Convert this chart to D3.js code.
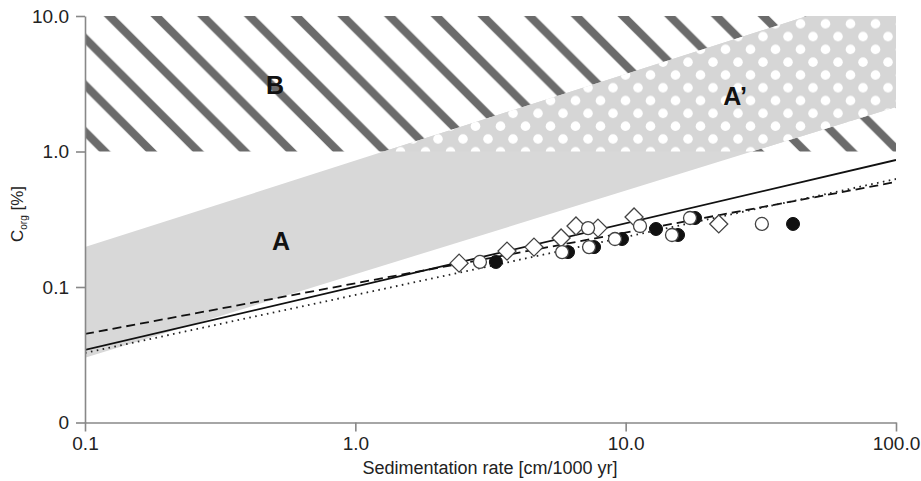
<!DOCTYPE html>
<html>
<head>
<meta charset="utf-8">
<script src="https://cdn.jsdelivr.net/npm/d3@7"></script>
<style>
  html, body { margin: 0; padding: 0; background: #fff; }
  svg { display: block; font-family: "Liberation Sans", Arial, sans-serif; }
</style>
</head>
<body>
<svg id="chart" width="921" height="481"></svg>
<script>
// ---- data ----
const xTickValues = [0.1, 1, 10, 100];
const xTickLabels = ["0.1", "1.0", "10.0", "100.0"];
const yTickValues = [0.01, 0.1, 1, 10];
const yTickLabels = ["0", "0.1", "1.0", "10.0"];

// field A band (upper and lower power-law boundaries)
const bandUpper = [[0.1, 0.197], [100, 16.2]];
const bandLower = [[0.1, 0.030], [100, 2.13]];
// field B: x-range and C range
const fieldB = { x0: 0.1, x1: 100, y0: 1, y1: 10 };

// regression lines
const solidLine = [[0.1, 0.0343], [100, 0.866]];
const dashedLine = [[0.1, 0.045], [100, 0.596]];
const dottedLine = [[0.1, 0.0326], [100, 0.627]];

// data points
const diamondX = [2.42, 3.64, 4.58, 5.77, 6.55, 7.90, 10.74, 22.1];
const diamondY = [0.150, 0.184, 0.197, 0.230, 0.282, 0.272, 0.329, 0.292];
const openX = [2.89, 5.82, 7.26, 7.32, 9.13, 11.3, 14.84, 17.3, 31.9];
const openY = [0.153, 0.181, 0.272, 0.197, 0.226, 0.282, 0.242, 0.323, 0.292];
const filledX = [3.31, 6.12, 7.64, 9.69, 12.95, 15.62, 18.05, 41.6];
const filledY = [0.153, 0.181, 0.197, 0.226, 0.268, 0.242, 0.323, 0.292];

const regionLabels = [
  { text: "B", x: 0.505, y: 2.99 },
  { text: "A\u2019", x: 25.4, y: 2.48 },
  { text: "A", x: 0.531, y: 0.211 }
];

// ---- layout ----
const svg = d3.select("#chart");
const x = d3.scaleLog().domain([0.1, 100]).range([85, 896]);
const y = d3.scaleLog().domain([0.01, 10]).range([422.5, 16]);

const defs = svg.append("defs");
defs.append("clipPath").attr("id", "plotClip")
  .append("rect").attr("x", 85).attr("y", 16).attr("width", 811).attr("height", 406.5);
defs.append("clipPath").attr("id", "upperClip")
  .append("rect")
  .attr("x", x(0.1)).attr("y", y(10))
  .attr("width", x(100) - x(0.1)).attr("height", y(1) - y(10));

// hatch pattern
const hw = 46.7;
const hatch = defs.append("pattern").attr("id", "hatch")
  .attr("patternUnits", "userSpaceOnUse").attr("width", hw).attr("height", hw);
hatch.append("path")
  .attr("d", `M-10,-10 L${hw + 10},${hw + 10} M${hw - 10},-10 L${hw + 10},10 M-10,${hw - 10} L10,${hw + 10}`)
  .attr("stroke", "#6b6b6b").attr("stroke-width", 8);

// dot pattern
const dw = 25, dh = 25.6;
const dots = defs.append("pattern").attr("id", "dots")
  .attr("patternUnits", "userSpaceOnUse").attr("width", dw).attr("height", dh);
dots.append("rect").attr("width", dw).attr("height", dh).attr("fill", "#d6d6d6");
[[13, 11], [0.5, 23.8], [25.5, 23.8], [0.5, -1.8], [25.5, -1.8]].forEach(p => {
  dots.append("circle").attr("cx", p[0]).attr("cy", p[1]).attr("r", 4.8).attr("fill", "#fff");
});

const plot = svg.append("g").attr("clip-path", "url(#plotClip)");

// field B
plot.append("rect")
  .attr("x", x(fieldB.x0)).attr("y", y(fieldB.y1))
  .attr("width", x(fieldB.x1) - x(fieldB.x0)).attr("height", y(fieldB.y0) - y(fieldB.y1))
  .attr("fill", "url(#hatch)");

// band polygon
const bandPoly = bandUpper.concat(bandLower.slice().reverse());
const polyPath = "M" + bandPoly.map(d => `${x(d[0])},${y(d[1])}`).join("L") + "Z";
plot.append("path").attr("d", polyPath).attr("fill", "#d8d8d8");
plot.append("g").attr("clip-path", "url(#upperClip)")
  .append("path").attr("d", polyPath).attr("fill", "url(#dots)");

// lines
const line = d3.line().x(d => x(d[0])).y(d => y(d[1]));
plot.append("path").attr("d", line(solidLine)).attr("fill", "none")
  .attr("stroke", "#111").attr("stroke-width", 1.8);
plot.append("path").attr("d", line(dashedLine)).attr("fill", "none")
  .attr("stroke", "#111").attr("stroke-width", 1.8).attr("stroke-dasharray", "9,5");
plot.append("path").attr("d", line(dottedLine)).attr("fill", "none")
  .attr("stroke", "#222").attr("stroke-width", 1.8).attr("stroke-dasharray", "1.6,4.4");

// markers
const filled = d3.range(filledX.length).map(i => [filledX[i], filledY[i]]);
const open = d3.range(openX.length).map(i => [openX[i], openY[i]]);
const diamonds = d3.range(diamondX.length).map(i => [diamondX[i], diamondY[i]]);

plot.append("g").selectAll("circle").data(filled).join("circle")
  .attr("cx", d => x(d[0])).attr("cy", d => y(d[1])).attr("r", 6.5)
  .attr("fill", "#111").attr("stroke", "#111").attr("stroke-width", 1);
plot.append("g").selectAll("path").data(diamonds).join("path")
  .attr("d", d => { const cx = x(d[0]), cy = y(d[1]), s = 9;
    return `M${cx},${cy - s}L${cx + s},${cy}L${cx},${cy + s}L${cx - s},${cy}Z`; })
  .attr("fill", "#fff").attr("stroke", "#444").attr("stroke-width", 1.3);
plot.append("g").selectAll("circle").data(open).join("circle")
  .attr("cx", d => x(d[0])).attr("cy", d => y(d[1])).attr("r", 6.5)
  .attr("fill", "#fff").attr("stroke", "#444").attr("stroke-width", 1.3);

// region labels
svg.append("g").selectAll("text").data(regionLabels).join("text")
  .attr("x", d => x(d.x)).attr("y", d => y(d.y))
  .attr("text-anchor", "middle").attr("dominant-baseline", "middle")
  .attr("font-size", 25).attr("font-weight", "bold").attr("fill", "#111")
  .text(d => d.text);

// axes
const xAxis = d3.axisBottom(x).tickValues(xTickValues)
  .tickFormat((d, i) => xTickLabels[i]).tickSize(9).tickPadding(5).tickSizeOuter(0);
const yAxis = d3.axisLeft(y).tickValues(yTickValues)
  .tickFormat((d, i) => yTickLabels[i]).tickSize(9).tickPadding(7).tickSizeOuter(0);

const gx = svg.append("g").attr("transform", `translate(0,${y(0.01)})`).call(xAxis);
const gy = svg.append("g").attr("transform", `translate(${x(0.1)},0)`).call(yAxis);
[gx, gy].forEach(g => {
  g.select(".domain").attr("stroke", "#888").attr("stroke-width", 1.6);
  g.selectAll(".tick line").attr("stroke", "#888").attr("stroke-width", 1.6);
  g.selectAll(".tick text").attr("fill", "#222").attr("font-size", 19)
    .attr("font-family", "'Liberation Sans', Arial, sans-serif");
});

// axis titles
svg.append("text").attr("x", 490).attr("y", 474).attr("text-anchor", "middle")
  .attr("font-size", 18).attr("fill", "#222").text("Sedimentation rate [cm/1000 yr]");

const yt = svg.append("text")
  .attr("transform", "translate(23,214) rotate(-90)")
  .attr("text-anchor", "middle").attr("font-size", 17).attr("fill", "#222");
yt.append("tspan").text("C");
yt.append("tspan").attr("font-size", 10).attr("dy", 4).text("org");
yt.append("tspan").attr("dy", -4).text(" [%]");
</script>
</body>
</html>
